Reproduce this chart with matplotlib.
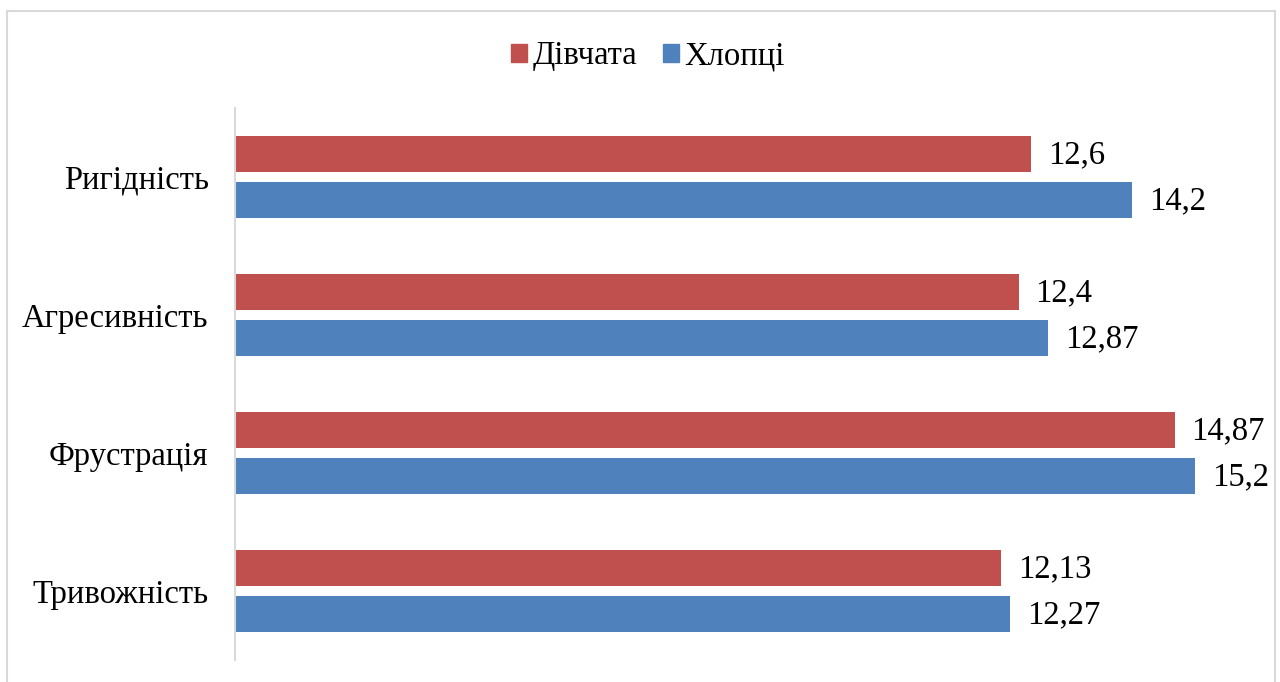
import matplotlib.pyplot as plt
from matplotlib.patches import Rectangle, Patch

plt.rcParams['font.family'] = ['Liberation Serif', 'DejaVu Serif']

categories = ['Ригідність', 'Агресивність', 'Фрустрація', 'Тривожність']
divchata = [12.6, 12.4, 14.87, 12.13]
khloptsi = [14.2, 12.87, 15.2, 12.27]
series_names = ['Дівчата', 'Хлопці']

red = '#C0504D'
blue = '#4F81BD'
fs = 23.5

W, H = 1280, 682
fig = plt.figure(figsize=(12.8, 6.82), dpi=100)
ax = fig.add_axes([235 / W, 1 - 660 / H, 1011 / W, 552 / H])

pos = list(range(len(categories)))
off = 23 / 138
h = 36 / 138
b1 = ax.barh([p - off for p in pos], divchata, height=h, color=red)
b2 = ax.barh([p + off for p in pos], khloptsi, height=h, color=blue)

for bars, vals in ((b1, divchata), (b2, khloptsi)):
    for bar, v in zip(bars, vals):
        ax.annotate(f'{v:g}'.replace('.', ','),
                    (bar.get_width(), bar.get_y() + bar.get_height() / 2),
                    xytext=(12, -1), textcoords='offset points',
                    ha='left', va='center', fontsize=fs)

ax.set_xlim(0, 16)
ax.set_ylim(len(categories) - 0.5, -0.5)
ax.set_yticks(pos)
ax.set_yticklabels(categories, fontsize=fs)
ax.tick_params(axis='y', length=0, pad=19)
ax.set_xticks([])
for s in ('top', 'right', 'bottom'):
    ax.spines[s].set_visible(False)
ax.spines['left'].set_color('#D9D9D9')
ax.spines['left'].set_linewidth(1.5)

handles = [Patch(color=red), Patch(color=blue)]
fig.legend(handles, series_names, loc='center', bbox_to_anchor=(648 / W, 1 - 56 / H),
           ncol=2, frameon=False, fontsize=fs, handlelength=0.48, handleheight=0.48,
           handletextpad=0.18, columnspacing=0.8)

fig.patches.append(Rectangle((7 / W, -0.01), 1268 / W, 1 - 11 / H + 0.01,
                             transform=fig.transFigure, fill=False,
                             edgecolor='#D9D9D9', linewidth=1.5))

fig.savefig('out.png', dpi=100)
